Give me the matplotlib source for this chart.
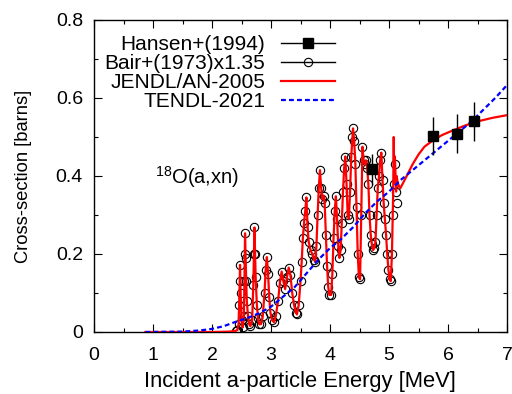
import matplotlib
matplotlib.use("Agg")
import matplotlib.pyplot as plt
from matplotlib.lines import Line2D
from matplotlib.ticker import MultipleLocator, FormatStrFormatter

plt.rcParams['font.family'] = ['Liberation Sans', 'DejaVu Sans']
plt.rcParams['mathtext.default'] = 'regular'

# Hansen+(1994)
hansen_e = [4.72, 5.75, 6.15, 6.44]
hansen_s = [0.417, 0.503, 0.508, 0.540]
hansen_err = [0.040, 0.048, 0.050, 0.050]

# Bair+(1973) x1.35
bair_e = [2.40, 2.43, 2.45, 2.46, 2.47, 2.475, 2.485, 2.50, 2.52, 2.54, 2.55, 2.555,
          2.56, 2.57, 2.58, 2.59, 2.61, 2.63, 2.65, 2.68, 2.70, 2.71, 2.72, 2.73,
          2.74, 2.76, 2.78, 2.80, 2.83, 2.86, 2.89, 2.91, 2.93, 2.95, 2.97, 2.99,
          3.02, 3.05, 3.08, 3.12, 3.15, 3.18, 3.21, 3.24, 3.27, 3.30, 3.33, 3.36,
          3.39, 3.42, 3.44, 3.47, 3.50, 3.52, 3.54, 3.56, 3.58, 3.60, 3.62, 3.64,
          3.67, 3.70, 3.73, 3.75, 3.77, 3.79, 3.81, 3.83, 3.85, 3.87, 3.89, 3.91,
          3.93, 3.95, 3.97, 3.99, 4.02, 4.04, 4.06, 4.08, 4.10, 4.12, 4.14, 4.16,
          4.18, 4.20, 4.22, 4.24, 4.26, 4.28, 4.30, 4.32, 4.34, 4.36, 4.38, 4.39,
          4.41, 4.43, 4.45, 4.47, 4.49, 4.51, 4.53, 4.55, 4.57, 4.59, 4.61, 4.63,
          4.65, 4.67, 4.69, 4.71, 4.73, 4.75, 4.77, 4.79, 4.81, 4.83, 4.85, 4.87,
          4.89, 4.91, 4.93, 4.95, 4.97, 4.99, 5.01, 5.03, 5.05, 5.07, 5.09, 5.10,
          5.12, 5.13]
bair_s = [0.003, 0.005, 0.020, 0.070, 0.130, 0.172, 0.100, 0.030, 0.012, 0.040, 0.130, 0.200,
          0.253, 0.190, 0.130, 0.080, 0.040, 0.020, 0.015, 0.030, 0.120, 0.200, 0.268, 0.200,
          0.140, 0.070, 0.035, 0.020, 0.020, 0.040, 0.100, 0.160, 0.192, 0.150, 0.090, 0.050,
          0.030, 0.025, 0.040, 0.080, 0.125, 0.155, 0.130, 0.110, 0.140, 0.165, 0.145, 0.100,
          0.070, 0.050, 0.045, 0.070, 0.130, 0.180, 0.240, 0.280, 0.310, 0.345, 0.270, 0.230,
          0.210, 0.200, 0.185, 0.180, 0.220, 0.300, 0.370, 0.415, 0.370, 0.340, 0.350, 0.330,
          0.250, 0.170, 0.115, 0.095, 0.095, 0.150, 0.240, 0.310, 0.348, 0.290, 0.220, 0.190,
          0.210, 0.280, 0.360, 0.420, 0.450, 0.380, 0.300, 0.290, 0.360, 0.450, 0.500, 0.522,
          0.490, 0.430, 0.320, 0.200, 0.140, 0.135, 0.300, 0.475, 0.440, 0.430, 0.440, 0.420,
          0.380, 0.300, 0.250, 0.225, 0.210, 0.215, 0.230, 0.300, 0.370, 0.400, 0.440, 0.460,
          0.390, 0.330, 0.290, 0.250, 0.200, 0.160, 0.135, 0.130, 0.200, 0.300, 0.380, 0.430,
          0.360, 0.330]

# JENDL/AN-2005
jendl_e = [0.87, 1.50, 2.00, 2.30, 2.40, 2.43, 2.45, 2.46, 2.47, 2.475, 2.485, 2.50,
           2.52, 2.54, 2.55, 2.555, 2.56, 2.57, 2.58, 2.59, 2.61, 2.63, 2.65, 2.68,
           2.70, 2.71, 2.72, 2.73, 2.74, 2.76, 2.78, 2.80, 2.83, 2.86, 2.89, 2.91,
           2.93, 2.95, 2.97, 2.99, 3.02, 3.05, 3.08, 3.12, 3.15, 3.18, 3.21, 3.24,
           3.27, 3.30, 3.33, 3.36, 3.39, 3.42, 3.44, 3.47, 3.50, 3.52, 3.54, 3.56,
           3.58, 3.60, 3.62, 3.64, 3.67, 3.70, 3.73, 3.75, 3.77, 3.79, 3.81, 3.83,
           3.85, 3.87, 3.89, 3.91, 3.93, 3.95, 3.97, 3.99, 4.02, 4.04, 4.06, 4.08,
           4.10, 4.12, 4.14, 4.16, 4.18, 4.20, 4.22, 4.24, 4.26, 4.28, 4.30, 4.32,
           4.34, 4.36, 4.38, 4.39, 4.41, 4.43, 4.45, 4.47, 4.49, 4.51, 4.53, 4.55,
           4.57, 4.59, 4.61, 4.63, 4.65, 4.67, 4.69, 4.71, 4.73, 4.75, 4.77, 4.79,
           4.81, 4.83, 4.85, 4.87, 4.89, 4.91, 4.93, 4.95, 4.97, 4.99, 5.01, 5.03,
           5.05, 5.07, 5.08, 5.09, 5.10, 5.12, 5.13, 5.15, 5.19, 5.30, 5.40, 5.50,
           5.60, 5.75, 5.90, 6.10, 6.30, 6.50, 6.75, 7.00]
jendl_s = [0.000, 0.000, 0.000, 0.001, 0.003, 0.005, 0.020, 0.070, 0.130, 0.172, 0.100, 0.030,
           0.012, 0.040, 0.130, 0.200, 0.253, 0.190, 0.130, 0.080, 0.040, 0.020, 0.015, 0.030,
           0.120, 0.200, 0.268, 0.200, 0.140, 0.070, 0.035, 0.020, 0.020, 0.040, 0.100, 0.160,
           0.192, 0.150, 0.090, 0.050, 0.030, 0.025, 0.040, 0.080, 0.125, 0.155, 0.130, 0.110,
           0.140, 0.165, 0.145, 0.100, 0.070, 0.050, 0.045, 0.070, 0.130, 0.180, 0.240, 0.280,
           0.310, 0.345, 0.270, 0.230, 0.210, 0.200, 0.185, 0.180, 0.220, 0.300, 0.370, 0.415,
           0.370, 0.340, 0.350, 0.330, 0.250, 0.170, 0.115, 0.095, 0.095, 0.150, 0.240, 0.310,
           0.348, 0.290, 0.220, 0.190, 0.210, 0.280, 0.360, 0.420, 0.450, 0.380, 0.300, 0.290,
           0.360, 0.450, 0.500, 0.522, 0.490, 0.430, 0.320, 0.200, 0.140, 0.135, 0.300, 0.475,
           0.440, 0.430, 0.440, 0.420, 0.380, 0.300, 0.250, 0.225, 0.210, 0.215, 0.230, 0.300,
           0.370, 0.400, 0.440, 0.460, 0.390, 0.330, 0.290, 0.250, 0.200, 0.160, 0.135, 0.130,
           0.200, 0.350, 0.500, 0.380, 0.450, 0.360, 0.400, 0.380, 0.368, 0.400, 0.430, 0.455,
           0.475, 0.492, 0.505, 0.518, 0.530, 0.540, 0.549, 0.556]

# TENDL-2021
tendl_e = [0.87, 1.50, 1.80, 2.00, 2.20, 2.40, 2.60, 2.80, 3.00, 3.20, 3.40, 3.60, 3.80, 4.00,
           4.20, 4.40, 4.60, 4.80, 5.00, 5.20, 5.40, 5.60, 5.80, 6.00, 6.20, 6.40,
           6.60, 6.80, 7.00]
tendl_s = [0.000, 0.001, 0.004, 0.008, 0.015, 0.026, 0.036, 0.048, 0.065, 0.090, 0.115, 0.150,
           0.185, 0.215, 0.240, 0.270, 0.305, 0.335, 0.360, 0.390, 0.415, 0.440, 0.465, 0.490,
           0.515, 0.540, 0.570, 0.600, 0.633]

xticks = [0, 1, 2, 3, 4, 5, 6, 7]
yticks = [0, 0.2, 0.4, 0.6, 0.8]

fig = plt.figure(figsize=(5.12, 3.94), dpi=100)
ax = fig.add_axes([94/512, 62/394, 413/512, 312/394])

fs_tick = 14
fs_leg = 15
fs_xl = 15.8
fs_yl = 13.2

ax.plot(bair_e, bair_s, linestyle='none', marker='o', markersize=6,
        markerfacecolor='none', markeredgecolor='black', markeredgewidth=0.8, zorder=2)
ax.plot(jendl_e, jendl_s, color='red', lw=1.6, zorder=3)
ax.plot(tendl_e, tendl_s, color='blue', lw=1.6, linestyle=(0, (2.2, 1.4)), zorder=4)
ax.errorbar(hansen_e, hansen_s, yerr=hansen_err, fmt='s', color='black',
            markersize=7, elinewidth=1.0, capsize=0, zorder=5)

ax.set_xlim(0, 7)
ax.set_ylim(0, 0.8)
ax.set_xticks(xticks)
ax.set_yticks(yticks)
ax.xaxis.set_minor_locator(MultipleLocator(0.5))
ax.yaxis.set_minor_locator(MultipleLocator(0.1))
ax.yaxis.set_major_formatter(FormatStrFormatter('%g'))
ax.tick_params(which='both', direction='in', top=True, right=True, labelsize=fs_tick, width=0.8)
ax.tick_params(which='major', length=6)
ax.tick_params(axis='x', which='major', pad=11)
ax.tick_params(axis='y', which='major', pad=8)
ax.tick_params(which='minor', length=3)
for sp in ax.spines.values():
    sp.set_linewidth(1.0)

ax.set_xlabel('Incident a-particle Energy [MeV]', fontsize=fs_xl, va='center')
ax.xaxis.set_label_coords(0.4995, (332 - 381) / 312)
ax.set_ylabel('Cross-section [barns]', fontsize=fs_yl, va='center')
ax.yaxis.set_label_coords((24 - 94) / 413, 0.5)

ax.text(1.03, 0.397, r'$^{18}$O(a,xn)', fontsize=14.5, ha='left', va='center')

handles = [
    Line2D([], [], color='black', lw=1.0, marker='s', markersize=7),
    Line2D([], [], color='black', lw=1.0, marker='o', markersize=6, markerfacecolor='none', markeredgewidth=0.8),
    Line2D([], [], color='red', lw=1.6),
    Line2D([], [], color='blue', lw=1.6, linestyle=(0, (2.2, 1.4))),
]
labels = ['Hansen+(1994)', 'Bair+(1973)x1.35', 'JENDL/AN-2005', 'TENDL-2021']
leg = ax.legend(handles, labels, loc='upper right', bbox_to_anchor=(0.5835, 0.952),
                frameon=False, fontsize=fs_leg, markerfirst=False, handlelength=2.6,
                handletextpad=0.75, labelspacing=0.0, borderpad=0, borderaxespad=0)
for vp in leg._legend_box._children[-1]._children:
    vp.align = 'right'

fig.savefig('out.png', dpi=100)
